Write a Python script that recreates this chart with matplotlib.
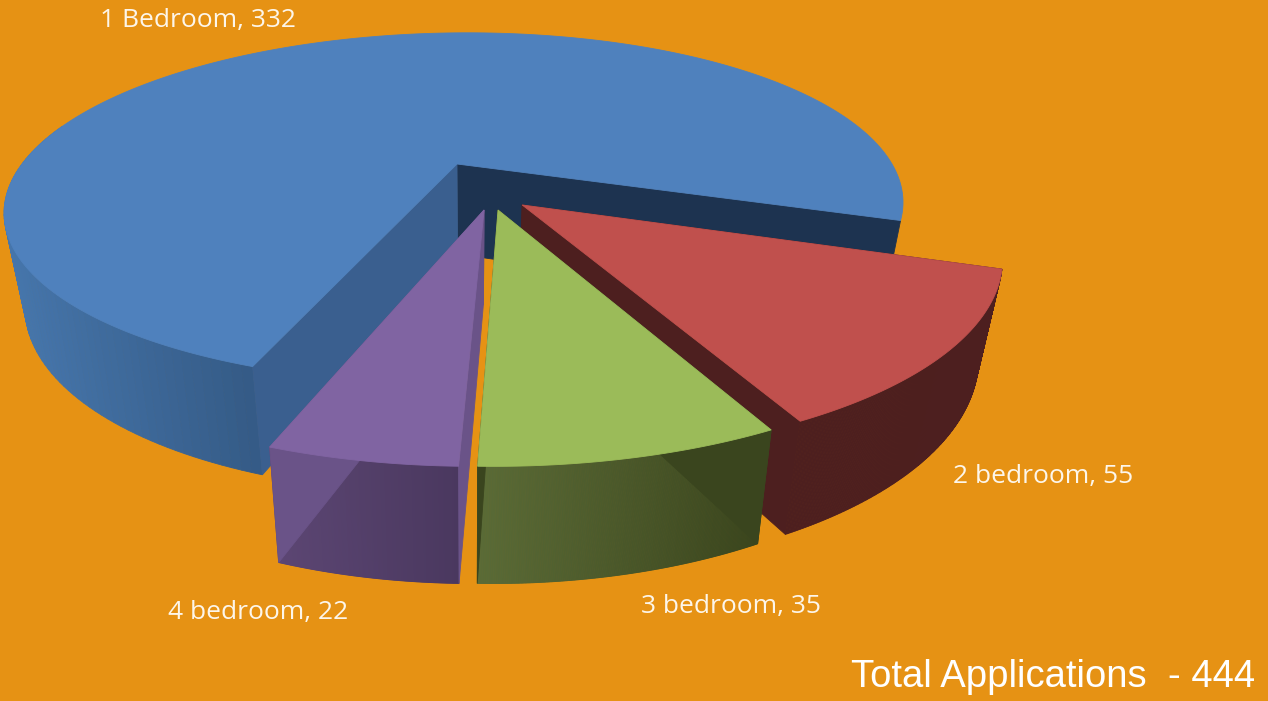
import numpy as np
import matplotlib
matplotlib.use("Agg")
import matplotlib.pyplot as plt
from matplotlib.patches import Polygon

categories = ["1 Bedroom", "2 bedroom", "3 bedroom", "4 bedroom"]
values = [332, 55, 35, 22]
title = "Total Applications - 444"

# style / layout
BG = "#E69214"
top_cols = ["#4F81BD", "#C0504D", "#9BBB59", "#8064A2"]
wall_left = ["#4676AC", "#4D1F1F", "#5A6B37", "#5C4673"]
wall_right = ["#345A85", "#4D1F1F", "#3A451E", "#4A3860"]
face_cols = [("#1D3350", "#3A5F8F"), ("#4D1F1F", "#4D1F1F"), ("#3A451E", "#3A451E"), ("#6A5388", "#6A5388")]
explode = [(0.0, 0.0), (0.148, -0.235), (0.096, -0.262), (0.066, -0.262)]
label_xy = [(198, 21), (1043, 476), (731, 607), (258, 613)]
CX, CY, RX, RY, K, SH = 457, 164, 435, 164, 0.25, 0.03
START = -18.5


def project(u, v):
    w = 1 + K * v
    return CX + RX * (u + SH * v) / w, CY - RY * v / w


def lower(x, y):
    return 470 + (x - 470) * 0.955, y + 90 + (y - 164) * 0.09


def hex_mix(a, b, t):
    ca, cb = np.array(matplotlib.colors.to_rgb(a)), np.array(matplotlib.colors.to_rgb(b))
    return ca + (cb - ca) * t


fig = plt.figure(figsize=(12.68, 7.01), dpi=100, facecolor=BG)
ax = fig.add_axes([0, 0, 1, 1])
ax.set_xlim(0, 1268)
ax.set_ylim(701, 0)
ax.axis("off")


def poly(pts, col, z):
    ax.add_patch(Polygon(pts, closed=True, facecolor=col, edgecolor=col, lw=0.6, zorder=z))


total = sum(values)
ang_end = START
spans = []
# the first slice sweeps counter-clockwise from START, the others clockwise from START
spans.append((START, START + values[0] / total * 360))
a = START
for val in values[1:]:
    spans.append((a, a - val / total * 360))
    a -= val / total * 360

z_order = [0, 1, 2, 3]
for i in z_order:
    a0, a1 = spans[i]
    du, dv = explode[i]
    base = 10 * (i + 1)
    angs = np.radians(np.linspace(a0, a1, 220))
    xs, ys = project(np.cos(angs) + du, np.sin(angs) + dv)
    xb, yb = lower(xs, ys)
    ax0, ay0 = project(du, dv)
    bx0, by0 = lower(ax0, ay0)

    # outer wall with a horizontal gradient
    front = np.sin(angs) < 0.05
    if i == 0:
        front = (np.degrees(angs) > 165)
    idx = np.where(front)[0]
    lo, hi = min(xs[idx]), max(xs[idx])
    for j in idx[:-1]:
        t = (xs[j] - lo) / max(hi - lo, 1)
        poly([(xs[j], ys[j]), (xs[j + 1], ys[j + 1]), (xb[j + 1], yb[j + 1]), (xb[j], yb[j])],
             hex_mix(wall_left[i], wall_right[i], t), base)

    # the two cut faces
    poly([(ax0, ay0), (xs[0], ys[0]), (xb[0], yb[0]), (bx0, by0)], face_cols[i][0], base + 1)
    poly([(ax0, ay0), (xs[-1], ys[-1]), (xb[-1], yb[-1]), (bx0, by0)], face_cols[i][1], base + 2)

    # top surface
    poly([(ax0, ay0)] + list(zip(xs, ys)), top_cols[i], base + 3)

    ax.text(label_xy[i][0], label_xy[i][1], f"{categories[i]}, {values[i]}", color="#FDF6EA",
            fontsize=19, family="Open Sans", ha="center", va="center", zorder=100)

ax.text(1255, 677, title.replace(" - ", "  - "), color="#FFFFFF", fontsize=27.5, family="Liberation Sans",
        ha="right", va="center", zorder=100)

fig.savefig("out.png", dpi=100, facecolor=BG)
